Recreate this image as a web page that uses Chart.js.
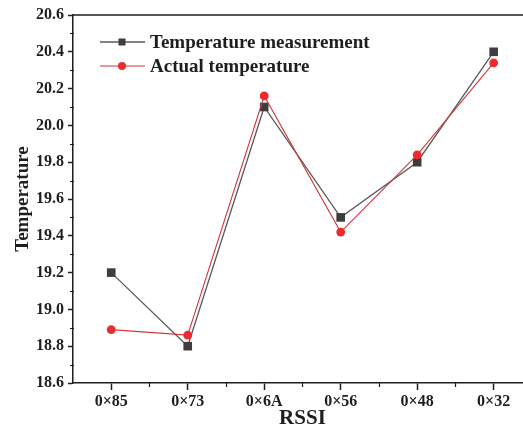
<!DOCTYPE html>
<html>
<head>
<meta charset="utf-8">
<script src="https://cdn.jsdelivr.net/npm/chart.js@4/dist/chart.umd.min.js"></script>
<style>
  html, body { margin: 0; padding: 0; background: #fff; overflow: hidden; }
  canvas { display: block; }
</style>
</head>
<body>
<canvas id="chart" width="538" height="432"></canvas>
<script>
// data
const categories = ['0×85', '0×73', '0×6A', '0×56', '0×48', '0×32'];
const measured = [19.2, 18.8, 20.1, 19.5, 19.8, 20.4];
const actual = [18.89, 18.86, 20.16, 19.42, 19.84, 20.34];
const seriesNames = ['Temperature measurement', 'Actual temperature'];
const yMin = 18.6;
const yMax = 20.6;
const yStep = 0.2;

const SERIF = '"Liberation Serif", "Times New Roman", serif';
const INK = '#1e1e1e';

// minor ticks, top border and the in-plot legend
const framePlugin = {
    id: 'frame',
    afterDraw(chart) {
        const ctx = chart.ctx;
        const area = chart.chartArea;
        const xs = chart.scales.x;
        const ys = chart.scales.y;
        ctx.save();
        ctx.strokeStyle = INK;
        ctx.lineWidth = 1.5;
        ctx.beginPath();
        ctx.moveTo(area.left, area.top);
        ctx.lineTo(area.right, area.top);
        ctx.lineTo(area.right, area.bottom);
        ctx.stroke();

        ctx.lineWidth = 1.2;
        ctx.beginPath();
        for (let v = yMin + yStep / 2; v < yMax; v += yStep) {
            const py = Math.round(ys.getPixelForValue(v)) + 0.5;
            ctx.moveTo(area.left - 3, py);
            ctx.lineTo(area.left + 1, py);
        }
        for (let i = 0; i < categories.length - 1; i++) {
            const px = Math.round((xs.getPixelForValue(i) + xs.getPixelForValue(i + 1)) / 2) + 0.5;
            ctx.moveTo(px, area.bottom);
            ctx.lineTo(px, area.bottom + 4);
        }
        ctx.stroke();

        // legend
        const lx = area.left + 27;
        const ly = area.top + 27;
        chart.data.datasets.forEach((ds, i) => {
            const y = ly + i * 24;
            ctx.strokeStyle = ds.borderColor;
            ctx.lineWidth = ds.borderWidth;
            ctx.beginPath();
            ctx.moveTo(lx, y);
            ctx.lineTo(lx + 45, y);
            ctx.stroke();
            ctx.fillStyle = ds.pointBackgroundColor;
            if (ds.pointStyle === 'rect') {
                ctx.fillRect(lx + 22 - 3.5, y - 3.5, 7, 7);
            } else {
                ctx.beginPath();
                ctx.arc(lx + 22, y, 4, 0, Math.PI * 2);
                ctx.fill();
            }
            ctx.fillStyle = INK;
            ctx.font = 'bold 19px ' + SERIF;
            ctx.textBaseline = 'middle';
            ctx.textAlign = 'left';
            ctx.fillText(ds.label, lx + 50, y + 1);
        });
        ctx.restore();
    }
};

new Chart(document.getElementById('chart'), {
    type: 'line',
    data: {
        labels: categories,
        datasets: [
            {
                label: seriesNames[0],
                data: measured,
                borderColor: '#5a5a5a',
                borderWidth: 1.3,
                pointStyle: 'rect',
                pointRadius: 6.1,
                pointBackgroundColor: '#3d3d3d',
                pointBorderColor: '#3d3d3d',
                pointBorderWidth: 0,
                tension: 0,
                order: 2
            },
            {
                label: seriesNames[1],
                data: actual,
                borderColor: '#d2383b',
                borderWidth: 1.1,
                pointStyle: 'circle',
                pointRadius: 4.4,
                pointBackgroundColor: '#ec2b2f',
                pointBorderColor: '#ec2b2f',
                pointBorderWidth: 0,
                tension: 0,
                order: 1
            }
        ]
    },
    options: {
        responsive: false,
        animation: false,
        layout: {
            padding: { top: 15, right: 5, left: 0, bottom: 0 }
        },
        plugins: {
            legend: { display: false },
            tooltip: { enabled: false }
        },
        scales: {
            x: {
                type: 'category',
                offset: true,
                afterFit(scale) { scale.height = 49; },
                grid: {
                    drawOnChartArea: false,
                    tickLength: 7,
                    tickWidth: 1.5,
                    tickColor: INK
                },
                border: { color: INK, width: 1.5 },
                ticks: {
                    color: INK,
                    padding: 2,
                    font: { family: SERIF, size: 16, weight: 'bold' }
                },
                title: {
                    display: true,
                    text: 'RSSI',
                    color: INK,
                    padding: { top: 0, bottom: 1 },
                    font: { family: SERIF, size: 21, weight: 'bold' }
                }
            },
            y: {
                min: yMin,
                max: yMax,
                afterFit(scale) { scale.width = 73; },
                grid: {
                    drawOnChartArea: false,
                    tickLength: 5,
                    tickWidth: 1.5,
                    tickColor: INK
                },
                border: { color: INK, width: 1.5 },
                ticks: {
                    stepSize: yStep,
                    color: INK,
                    padding: 4,
                    callback: value => value.toFixed(1),
                    font: { family: SERIF, size: 16, weight: 'bold' }
                },
                title: {
                    display: true,
                    text: 'Temperature',
                    color: INK,
                    padding: { top: 12, bottom: 0 },
                    font: { family: SERIF, size: 19, weight: 'bold' }
                }
            }
        }
    },
    plugins: [framePlugin]
});
</script>
</body>
</html>
